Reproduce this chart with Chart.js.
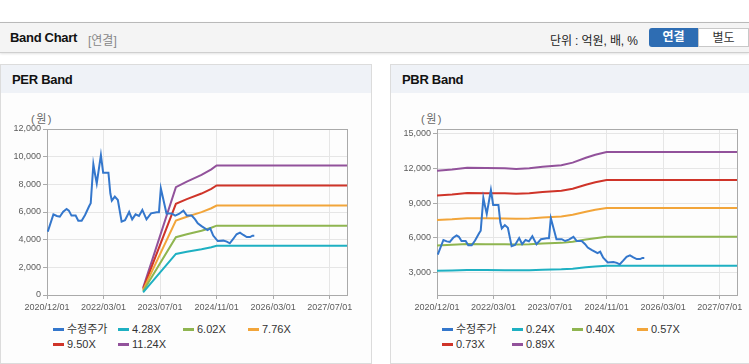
<!DOCTYPE html>
<html>
<head>
<meta charset="utf-8">
<script src="https://cdn.jsdelivr.net/npm/chart.js@4"></script>
<style>
  body { margin: 0; width: 749px; height: 364px; background: #fff; position: relative; overflow: hidden;
         font-family: "Liberation Sans", "Noto Sans CJK KR", sans-serif; }
  .topbar { position: absolute; left: 0; top: 22px; width: 749px; height: 29px; background: #f4f4f4;
            border-top: 1px solid #b9b9b9; border-bottom: 1px solid #cfcfcf; box-shadow: 0 1px 2px #e4e4e4; }
  .topbar .title { position: absolute; left: 10px; top: 7px; font-size: 13px; font-weight: bold; color: #111; letter-spacing: -0.3px; }
  .topbar .sub { position: absolute; left: 88px; top: 8px; font-size: 12px; color: #888; }
  .topbar .unit { position: absolute; left: 550px; top: 8px; font-size: 12px; color: #222; letter-spacing: -0.1px; }
  .btn { position: absolute; top: 5px; height: 19px; width: 49px; font-size: 12px; text-align: center; line-height: 19px; box-sizing: border-box; }
  .btn.on { left: 649px; background: #2e6db3; color: #fff; font-weight: bold; border-radius: 3px 0 0 3px; }
  .btn.off { left: 698px; width: 51px; background: #fff; color: #333; border: 1px solid #c8c8c8; }
  .panel { position: absolute; top: 64px; height: 298px; background: #fdfdfd; border: 1px solid #dcdcdc; }
  .panel .head { height: 28px; background: #eff2f7; font-size: 13px; font-weight: bold; color: #111; line-height: 29px; padding-left: 11px; letter-spacing: -0.3px; }
  .unitlbl { position: absolute; top: 110px; font-size: 11px; color: #666; letter-spacing: 1.5px; }
  canvas { position: absolute; top: 100px; }
  .legend { position: absolute; font-size: 11px; color: #333; }
  .legend .item { position: absolute; white-space: nowrap; height: 14px; line-height: 14px; }
  .legend .swatch { display: inline-block; width: 11px; height: 3px; vertical-align: middle; margin-right: 3px; position: relative; top: -1px; }
</style>
</head>
<body>
<div class="topbar">
  <span class="title">Band Chart</span><span class="sub">[연결]</span>
  <span class="unit">단위 : 억원, 배, %</span>
  <div class="btn on">연결</div><div class="btn off">별도</div>
</div>
<div class="panel" style="left:0;width:370px;"><div class="head">PER Band</div></div>
<div class="panel" style="left:390px;width:358px;"><div class="head">PBR Band</div></div>
<div class="unitlbl" style="left:31px;">(원)</div>
<div class="unitlbl" style="left:421px;">(원)</div>
<canvas id="perChart" width="370" height="222" style="left:0;"></canvas>
<canvas id="pbrChart" width="359" height="222" style="left:390px;"></canvas>
<div class="legend" id="perLegend"></div>
<div class="legend" id="pbrLegend"></div>
<script>
// x 값은 2020/12/01 기준 개월 수
const tickMonths = [0, 15, 30, 45, 60, 75];
const tickLabels = ['2020/12/01', '2022/03/01', '2023/07/01', '2024/11/01', '2026/03/01', '2027/07/01'];
const axisEnd = 79.6;

// 수정주가
const priceMonths = [0.2, 1.7, 2.6, 3.4, 4.3, 5.2, 5.8, 6.5, 7.6, 8.3, 9.2, 10.1, 11.2, 11.6, 12.3, 12.7, 13.2,
  14.3, 14.9, 16.3, 16.8, 17.2, 18.0, 18.8, 19.8, 20.7, 21.8, 22.6, 23.5, 24.4, 25.3, 26.4, 27.6, 29.1, 29.7,
  30.2, 30.8, 31.7, 33.1, 34.0, 35.0, 36.2, 37.1, 38.4, 39.3, 40.0, 41.0, 42.6, 43.3, 44.1, 45.3, 46.8, 47.7,
  48.5, 49.4, 50.3, 51.2, 52.1, 53.0, 53.9, 54.5, 55.0];
const priceValues = [4580, 5830, 5710, 5660, 6020, 6220, 6100, 5740, 5740, 5370, 5370, 5780, 6430, 6630, 9450, 8800, 8070,
  10120, 8840, 8840, 7350, 6820, 7110, 6870, 5300, 5400, 6000, 5470, 5830, 5710, 6150, 5470, 5900, 5980, 5980,
  7710, 6990, 5900, 5900, 5740, 5860, 6100, 5740, 5740, 5470, 5180, 4980, 4700, 4820, 4300, 3900, 3930, 3860,
  3740, 4050, 4390, 4510, 4340, 4190, 4190, 4290, 4290];

// PER 밴드
const perBandMonths = [25.5, 34.2, 37.1, 41.0, 43.6, 45.0, axisEnd];
const per428 = [197, 2970, 3120, 3304, 3458, 3565, 3565];
const per602 = [277, 4178, 4389, 4647, 4864, 5015, 5015];
const per776 = [357, 5385, 5657, 5991, 6270, 6464, 6464];
const per950 = [437, 6593, 6926, 7334, 7676, 7914, 7914];
const per1124 = [517, 7801, 8194, 8677, 9082, 9363, 9363];
const perYTicks = [0, 2000, 4000, 6000, 8000, 10000, 12000];

// PBR 밴드
const pbrBandMonths = [0, 4, 8, 13, 18, 21, 24.5, 28, 33, 36, 39.5, 42, 45, axisEnd];
const pbr024 = [3177, 3204, 3244, 3240, 3236, 3220, 3236, 3271, 3305, 3365, 3479, 3546, 3613, 3613];
const pbr040 = [5363, 5409, 5477, 5470, 5463, 5436, 5463, 5523, 5581, 5682, 5873, 5987, 6100, 6100];
const pbr057 = [7545, 7610, 7705, 7695, 7685, 7647, 7685, 7769, 7850, 7993, 8262, 8422, 8582, 8582];
const pbr073 = [9662, 9746, 9867, 9855, 9843, 9794, 9843, 9949, 10054, 10236, 10581, 10786, 10991, 10991];
const pbr089 = [11780, 11882, 12030, 12015, 12000, 11940, 12000, 12130, 12257, 12480, 12900, 13150, 13400, 13400];
const pbrYTicks = [3000, 6000, 9000, 12000, 15000];

const colors = ['#3477cc', '#1eb0c2', '#8fb550', '#f2a53a', '#cf3429', '#92529b'];

function pts(xs, ys) {
  return xs.map((x, i) => ({ x: x, y: ys[i] }));
}

const frame = {
  id: 'frame',
  beforeDatasetsDraw(chart) {
    const a = chart.chartArea, ctx = chart.ctx;
    ctx.save();
    ctx.strokeStyle = '#aaaaaa';
    ctx.lineWidth = 1;
    ctx.strokeRect(Math.round(a.left) + 0.5, Math.round(a.top) + 0.5,
      Math.round(a.right - a.left), Math.round(a.bottom - a.top));
    ctx.restore();
  }
};

function makeChart(id, labels, series, yMin, yMax, yTicks, padRight) {
  const datasets = series.map((s, i) => ({
    label: labels[i],
    data: s,
    borderColor: colors[i],
    backgroundColor: colors[i],
    borderWidth: 2,
    pointRadius: 0,
    tension: 0
  }));
  // 주가가 맨 위에 그려지도록
  datasets[0].order = -1;
  return new Chart(document.getElementById(id), {
    type: 'line',
    data: { datasets: datasets },
    options: {
      responsive: false,
      animation: false,
      devicePixelRatio: 1,
      layout: { padding: { top: 29, right: padRight, left: 0, bottom: 0 } },
      plugins: { legend: { display: false }, tooltip: { enabled: false } },
      scales: {
        x: {
          type: 'linear',
          min: 0,
          max: axisEnd,
          afterBuildTicks: (s) => { s.ticks = tickMonths.map(v => ({ value: v })); },
          afterFit: (s) => { s.height = 27; },
          grid: { color: '#e6e6e6', tickColor: '#aaaaaa', tickLength: 4 },
          border: { display: false },
          ticks: {
            autoSkip: false, maxRotation: 0, padding: 3, color: '#5c5c5c',
            font: { family: 'Liberation Sans', size: 9 },
            callback: (v) => tickLabels[tickMonths.indexOf(v)]
          }
        },
        y: {
          min: yMin,
          max: yMax,
          afterBuildTicks: (s) => { s.ticks = yTicks.map(v => ({ value: v })); },
          afterFit: (s) => { s.width = 47; },
          grid: { color: '#e6e6e6', tickColor: '#aaaaaa', tickLength: 4 },
          border: { display: false },
          ticks: {
            padding: 2, color: '#5c5c5c',
            font: { family: 'Liberation Sans', size: 9 },
            callback: (v) => v.toLocaleString('en-US')
          }
        }
      }
    },
    plugins: [frame]
  });
}

function makeLegend(elId, chart, left, cols) {
  const el = document.getElementById(elId);
  el.style.left = left + 'px';
  el.style.top = '322px';
  chart.data.datasets.forEach((ds, i) => {
    const it = document.createElement('div');
    it.className = 'item';
    it.style.left = cols[i % 4] + 'px';
    it.style.top = (i < 4 ? 0 : 15) + 'px';
    it.innerHTML = '<span class="swatch" style="background:' + ds.borderColor + '"></span>' + ds.label;
    el.appendChild(it);
  });
}

const perChart = makeChart('perChart',
  ['수정주가', '4.28X', '6.02X', '7.76X', '9.50X', '11.24X'],
  [pts(priceMonths, priceValues), pts(perBandMonths, per428), pts(perBandMonths, per602),
   pts(perBandMonths, per776), pts(perBandMonths, per950), pts(perBandMonths, per1124)],
  0, 12000, perYTicks, 23);

const pbrChart = makeChart('pbrChart',
  ['수정주가', '0.24X', '0.40X', '0.57X', '0.73X', '0.89X'],
  [pts(priceMonths, priceValues), pts(pbrBandMonths, pbr024), pts(pbrBandMonths, pbr040),
   pts(pbrBandMonths, pbr057), pts(pbrBandMonths, pbr073), pts(pbrBandMonths, pbr089)],
  1100, 15370, pbrYTicks, 12);

makeLegend('perLegend', perChart, 53, [0, 65, 130, 195]);
makeLegend('pbrLegend', pbrChart, 442, [0, 70, 130, 195]);
</script>
</body>
</html>
